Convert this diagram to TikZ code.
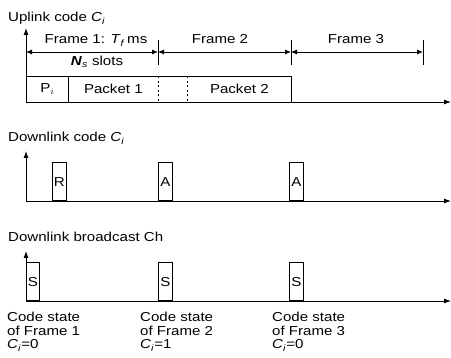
\documentclass[tikz,border=0pt]{standalone}
\usepackage{fontspec}
\setmainfont{Liberation Sans}
\newfontfamily\widesans{Liberation Sans}[FakeStretch=1.16]
\usetikzlibrary{arrows.meta, positioning}
\newcommand{\codeC}{\textit{C}\textsubscript{\textit{i}}}
\tikzset{
	labeltext/.style={
			inner sep=0pt,
			font=\widesans\fontsize{13}{13.5}\selectfont
		},
	slotbox/.style={
			shape=rectangle,
			draw=black,
			line width=0.7pt,
			anchor=south west,
			minimum width=14pt,
			minimum height=38pt,
			inner sep=0pt,
			font=\widesans\fontsize{13}{13.5}\selectfont
		},
	packetbox/.style={
			slotbox,
			draw=none,
			minimum height=25pt
		},
	boxline/.style={
			line width=0.7pt
		},
	gapline/.style={
			line width=0.7pt,
			dash pattern=on 2pt off 2.5pt
		},
	axisline/.style={
			line width=0.9pt,
			-{Latex[length=7pt,width=5pt]}
		},
	dimline/.style={
			line width=0.8pt,
			{Latex[length=6pt,width=5pt]}-{Latex[length=6pt,width=5pt]}
		}
}

\begin{document}
\begin{tikzpicture}[x=1pt, y=-1pt]
	\useasboundingbox (0,0) rectangle (451,358);

	% uplink
	\node[labeltext, anchor=base west] (uptitle) at (8,22) {Uplink code \codeC};
	\coordinate (uporg) at (26,102);
	\coordinate (uptop) at (26,28);
	\coordinate (upend) at (451,102);
	\draw[axisline] (uporg) -- (uptop);
	\draw[axisline] (uporg) -- (upend);

	\node[packetbox, minimum width=42pt] (pre) at (26,102) {P$_i$};
	\node[packetbox, minimum width=90pt] (pk1) at (68,102) {Packet 1};
	\node[packetbox, minimum width=29pt] (gap) at (158,102) {};
	\node[packetbox, minimum width=104pt] (pk2) at (187,102) {Packet 2};
	\draw[boxline] (pre.north west) -- (pk2.north east) -- (pk2.south east);
	\draw[boxline] (pre.north east) -- (pre.south east);
	\draw[gapline] (gap.north west) -- (gap.south west);
	\draw[gapline] (gap.north east) -- (gap.south east);

	\coordinate (f0) at (26,52);
	\coordinate (f1) at (158,52);
	\coordinate (f2) at (291,52);
	\coordinate (f3) at (423,52);
	\foreach \t in {f1,f2,f3}
		\draw[line width=0.7pt] ([yshift=12pt]\t) -- ([yshift=-13pt]\t);
	\draw[dimline] (f0) -- (f1);
	\draw[dimline] (f1) -- (f2);
	\draw[dimline] (f2) -- (f3);

	\node[labeltext, anchor=base] (fr1) at (96,44) {Frame 1: \textit{T}\textsubscript{\textit{f}}\,ms};
	\node[labeltext, anchor=base] (fr2) at (220,44) {Frame 2};
	\node[labeltext, anchor=base] (fr3) at (356,44) {Frame 3};
	\node[labeltext, anchor=base] (slots) at (97,66) {\textit{\textbf{N}}\textsubscript{\textit{s}} slots};

	% downlink
	\node[labeltext, anchor=base west] (dntitle) at (8,142) {Downlink code \codeC};
	\coordinate (dnorg) at (26,201);
	\coordinate (dntop) at (26,151);
	\coordinate (dnend) at (451,201);
	\draw[axisline] (dnorg) -- (dntop);
	\draw[axisline] (dnorg) -- (dnend);

	\node[slotbox] (r1) at (52,201) {R};
	\node[slotbox] (a2) at (158,201) {A};
	\node[slotbox] (a3) at (289,201) {A};

	% broadcast
	\node[labeltext, anchor=base west] (bctitle) at (8,242) {Downlink broadcast Ch};
	\coordinate (bcorg) at (26,301);
	\coordinate (bctop) at (26,251);
	\coordinate (bcend) at (451,301);
	\draw[axisline] (bcorg) -- (bctop);
	\draw[axisline] (bcorg) -- (bcend);

	\node[slotbox, minimum width=13pt] (s1) at (26,301) {S};
	\node[slotbox] (s2) at (158,301) {S};
	\node[slotbox] (s3) at (289,301) {S};

	\node[labeltext, anchor=base west, align=left] (st1) at (7,349) {Code state\\of Frame 1\\\codeC=0};
	\node[labeltext, anchor=base west, align=left] (st2) at (140,349) {Code state\\of Frame 2\\\codeC=1};
	\node[labeltext, anchor=base west, align=left] (st3) at (272,349) {Code state\\of Frame 3\\\codeC=0};

\end{tikzpicture}
\end{document}
